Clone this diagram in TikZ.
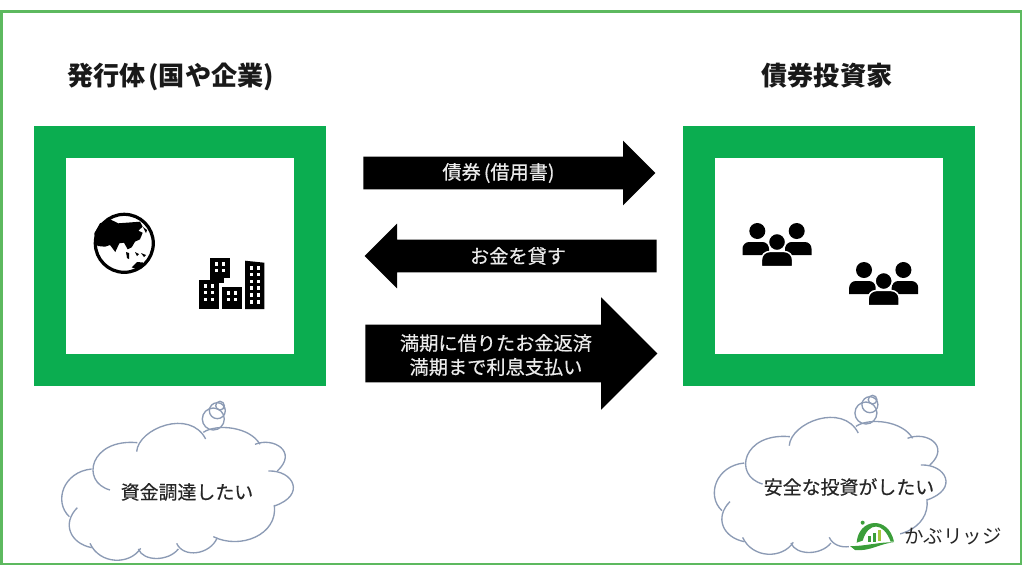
\documentclass[tikz,border=0pt]{standalone}
\usepackage{fontspec}
\setmainfont{Noto Sans CJK JP}
\usetikzlibrary{shapes.arrows}
\definecolor{boxgreen}{HTML}{0BAD50}
\definecolor{framegreen}{HTML}{5DB95F}
\definecolor{cloudline}{HTML}{8C9BB5}
\definecolor{logogreen}{HTML}{3B9E3A}
\definecolor{logolime}{HTML}{A5C63B}
\newcommand{\lparen}{\makebox[.5em][r]{(}}
\newcommand{\rparen}{\makebox[.5em][l]{)}}
\tikzset{
  greenbox/.style={draw=boxgreen, line width=24pt, minimum width=195pt, minimum height=171pt, inner sep=0pt},
  blockarrow/.style={single arrow, fill=black, anchor=tail, inner xsep=0pt, minimum height=219pt},
  smallarrow/.style={blockarrow, inner ysep=12pt, single arrow head extend=12pt},
  bigarrow/.style={blockarrow, inner ysep=21.4pt, single arrow head extend=20.5pt},
  arrowtext/.style={text=white!92!black, font=\fontsize{14.4pt}{18pt}\selectfont\addfontfeature{FakeBold=.4}, align=center, inner sep=0pt},
  cloudtext/.style={text=black!85, font=\fontsize{14.2pt}{18pt}\selectfont\addfontfeature{FakeBold=.4}, inner sep=0pt},
  titletext/.style={text=black!90, font=\fontsize{19.6pt}{22pt}\selectfont\bfseries, inner sep=0pt},
  pics/thinkcloud/.style={code={
    \begin{scope}[scale=.3333, draw=cloudline, line width=1pt]
      \draw (290,170) .. controls (295,100) and (450,40) .. (497,132);
      \draw (490,112) .. controls (530,85) and (630,95) .. (660,148);
      \draw (645,148) .. controls (700,125) and (775,170) .. (712,228);
      \draw (685,228) .. controls (760,225) and (800,300) .. (703,333);
      \draw (703,330) .. controls (715,420) and (600,465) .. (520,425);
      \draw (532,428) .. controls (510,480) and (430,490) .. (410,445);
      \draw (415,462) .. controls (385,500) and (310,500) .. (295,462);
      \draw (302,460) .. controls (270,510) and (180,510) .. (150,445);
      \draw (155,458) .. controls (90,445) and (65,385) .. (112,338);
      \draw (88,365) .. controls (40,320) and (70,230) .. (155,222);
      \draw (210,285) .. controls (120,260) and (150,130) .. (292,143);
      \draw (520,72) circle (33);
      \draw (532,47) circle (24);
      \draw (540,32) circle (13);
    \end{scope}
  }},
  pics/crowd/.style={code={
    \fill (-19.7,-19) circle (8);
    \fill (19.7,-19) circle (8);
    \fill[rounded corners=5pt] (-34.5,5) -- (-34.5,-8) -- (-8,-8) [sharp corners] -- (-8,5) -- cycle;
    \fill[rounded corners=5pt] (8,5) -- (8,-8) -- (34.5,-8) [sharp corners] -- (34.5,5) -- cycle;
    \filldraw[draw=white, line width=1.1pt] (0,-8) circle (8.6);
    \filldraw[draw=white, line width=1.1pt, rounded corners=6pt] (-15.5,16.5) -- (-15.5,1.5) -- (15.5,1.5) [sharp corners] -- (15.5,16.5) -- cycle;
  }},
  pics/towerwindows/.style={code={
    \foreach \wx in {0,1}
      \foreach \wy in {1,...,#1}
        \fill[white] (4.5+7*\wx,4+6.8*\wy-6.8) rectangle ++(3.6,3.6);
  }}
}

\begin{document}
\begin{tikzpicture}[x=.75pt, y=-.75pt]
  \useasboundingbox (0,0) rectangle (1024,576);
  \fill[white] (0,0) rectangle (1024,576);
  \draw[framegreen, line width=1.9pt] (1.5,11.5) rectangle (1021,564);

  \node[titletext] (issuertitle) at (172,77) {発行体\lparen 国や企業\rparen};
  \node[titletext] (investortitle) at (827,76) {債券投資家};

  \node[greenbox] (issuerbox) at (180,256) {};
  \node[greenbox] (investorbox) at (829,256) {};

  \node[smallarrow] (bondarrow) at (363,173) {};
  \node[smallarrow, shape border rotate=180] (lendarrow) at (657,256) {};
  \node[bigarrow] (repayarrow) at (365,353.5) {};
  \node[arrowtext] (bondtext) at (500,173) {債券\lparen 借用書\rparen};
  \node[arrowtext] (lendtext) at (518,256) {お金を貸す};
  \node[arrowtext] (repaytext) at (496,355) {満期に借りたお金返済\\満期まで利息支払い};

  % globe
  \filldraw[draw=black, fill=white, line width=2.4pt] (124.3,243.3) circle (29);
  \fill (110,219.3) -- (118.3,223.3) -- (140,221.7) -- (142.7,226.7) -- (138.3,230.7) -- (142.7,232.7)
    -- (140,239.3) -- (135,241.7) -- (131.7,247.3) -- (127.7,249.3) -- (124,242.7) -- (119.3,243.3)
    -- (115.3,252) -- (110,245) -- (105,246.7) -- (97.7,246) -- (95,240) -- (94.3,233.3) -- (100,223.3) -- cycle;
  \fill (126,252) -- (129,253) -- (129,259) -- (127,258) -- cycle;
  \fill (135,252) -- (139,254) -- (137,256) -- cycle;
  \fill (141,253) -- (146,255) -- (144,257) -- cycle;
  \fill (143,227) -- (147,230) -- (146,233) -- cycle;
  \fill (131.7,267.3) -- (137,262) -- (143,262.5) -- (145,265) -- (137,269.5) -- cycle;

  % buildings
  \fill (210,258) rectangle (230,283);
  \fill[white] (224,278) rectangle (232,285);
  \fill (199,280) rectangle (219,309);
  \fill (222.3,287) rectangle (241.7,309);
  \fill (245,260.7) -- (264.3,262.7) -- (264.3,309) -- (245,309) -- cycle;
  \pic (upperwindows) at (210,258) {towerwindows=2};
  \pic (leftwindows) at (199,280) {towerwindows=3};
  \pic (midwindows) at (222.3,287) {towerwindows=2};
  \pic (rightwindows) at (245,262) {towerwindows=6};

  \pic (crowdupper) at (777,250) {crowd};
  \pic (crowdlower) at (883.7,289) {crowd};

  \pic (issuercloud) at (40,395) {thinkcloud};
  \pic (investorcloud) at (692.6,389) {thinkcloud};
  \node[cloudtext] (issuerwish) at (187,492) {資金調達したい};
  \node[cloudtext] (investorwish) at (849,487) {安全な投資がしたい};

  % logo
  \begin{scope}[shift={(850,510)}, scale=.3333]
    \fill[white] (-2,20) rectangle (150,130);
    \fill[logogreen] (20,98) .. controls (25,25) and (115,15) .. (132,95) -- (122,95) .. controls (100,35) and (55,35) .. (38,92) -- cycle;
    \fill[logogreen] (0,108) .. controls (40,110) and (90,95) .. (132,97) .. controls (90,100) and (60,125) .. (15,120) -- cycle;
    \fill[logogreen] (38,38) circle (6);
    \fill[logogreen] (55,78) rectangle (62,97);
    \fill[logogreen] (70,68) rectangle (77,95);
    \fill[logolime] (85,60) rectangle (92,93);
  \end{scope}
  \node[text=black!85, font=\fontsize{14.6pt}{18pt}\selectfont, inner sep=0pt] (logotext) at (953,536) {かぶリッジ};
\end{tikzpicture}
\end{document}
